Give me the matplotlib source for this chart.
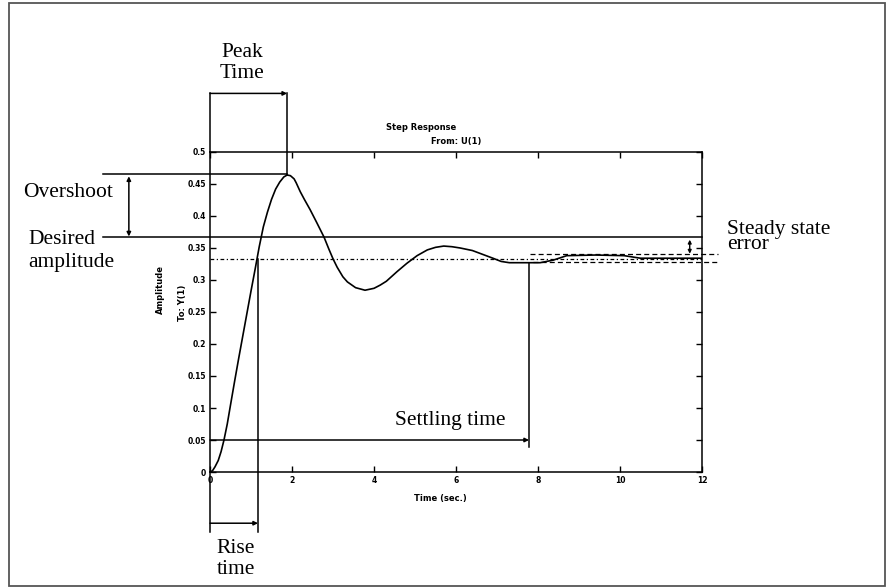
import matplotlib
matplotlib.use("Agg")
import matplotlib.pyplot as plt
from matplotlib.patches import Rectangle

# Step response samples (time in seconds, amplitude)
time_s = [0.0, 0.06, 0.12, 0.2, 0.27, 0.34, 0.42, 0.5, 0.6, 0.7, 0.8, 0.9, 1.0,
          1.1, 1.2, 1.3, 1.4, 1.5, 1.6, 1.7, 1.8, 1.88, 1.96, 2.05, 2.1, 2.2,
          2.3, 2.44, 2.6, 2.78, 2.9, 3.0, 3.1, 3.24, 3.35, 3.55, 3.78, 4.0, 4.15,
          4.3, 4.56, 4.8, 5.05, 5.3, 5.5, 5.7, 5.9, 6.1, 6.4, 6.65, 6.9, 7.1,
          7.3, 8.05, 8.37, 8.7, 9.4, 10.1, 10.5, 11.2, 12.0]
amplitude = [0.0, 0.002, 0.008, 0.018, 0.032, 0.05, 0.075, 0.105, 0.142, 0.178, 0.213, 0.248, 0.283,
             0.317, 0.352, 0.383, 0.406, 0.426, 0.442, 0.453, 0.461, 0.464, 0.463, 0.458, 0.452, 0.438,
             0.426, 0.41, 0.39, 0.367, 0.348, 0.333, 0.320, 0.305, 0.297, 0.288, 0.284, 0.287, 0.292,
             0.298, 0.313, 0.326, 0.338, 0.347, 0.351, 0.353, 0.352, 0.350, 0.346, 0.340, 0.334, 0.329,
             0.327, 0.327, 0.331, 0.338, 0.339, 0.338, 0.334, 0.334, 0.334]

x_ticks = [0, 2, 4, 6, 8, 10, 12]
y_ticks = [0, 0.05, 0.1, 0.15, 0.2, 0.25, 0.3, 0.35, 0.4, 0.45, 0.5]
y_tick_labels = ["0", "0.05", "0.1", "0.15", "0.2", "0.25", "0.3", "0.35", "0.4", "0.45", "0.5"]

# Characteristic values marked on the response
peak_time = 1.88
peak_value = 0.464
rise_time = 1.17
settling_time = 7.78
final_value = 0.333
desired_value = 0.367
band_upper = 0.341
band_lower = 0.328

fig = plt.figure(figsize=(8.9, 5.87), dpi=100)
fig.patch.set_facecolor("white")
fig.patches.append(Rectangle((0.0101, 0.0017), 0.984, 0.993, transform=fig.transFigure,
                             fill=False, edgecolor="#555555", linewidth=1.3))

ax = fig.add_axes([0.2360, 0.1959, 0.5528, 0.5452])
ax.plot(time_s, amplitude, color="black", linewidth=1.2)
ax.set_xlim(0, 12)
ax.set_ylim(0, 0.5)
ax.set_xticks(x_ticks)
ax.set_xticklabels([str(v) for v in x_ticks])
ax.set_yticks(y_ticks)
ax.set_yticklabels(y_tick_labels)
ax.tick_params(direction="in", length=4, width=1, top=True, right=True,
               labelsize=5.5, pad=3)
for lab in ax.get_xticklabels() + ax.get_yticklabels():
    lab.set_fontweight("bold")
for sp in ax.spines.values():
    sp.set_linewidth(1.1)

tick_font = dict(fontsize=6, fontweight="bold", family="DejaVu Sans")
ax.text(5.15, 0.5375, "Step Response", ha="center", va="center", **tick_font)
ax.text(6.0, 0.516, "From: U(1)", ha="center", va="center", **tick_font)
ax.text(5.63, -0.041, "Time (sec.)", ha="center", va="center", **tick_font)
ax.text(-1.2, 0.285, "Amplitude", ha="center", va="center", rotation=90, **tick_font)
ax.text(-0.66, 0.264, "To: Y(1)", ha="center", va="center", rotation=90, **tick_font)

lk = dict(color="black", linewidth=1.1, clip_on=False)

# final value (dash-dot) and desired amplitude
ax.plot([0, 12], [final_value, final_value], color="black", linewidth=0.9,
        linestyle=(0, (3, 2, 1, 2)))
ax.plot([-2.61, 12], [desired_value, desired_value], **lk)

# overshoot
ax.plot([-2.61, peak_time], [peak_value + 0.002, peak_value + 0.002], **lk)
ax.annotate("", xy=(-1.98, peak_value - 0.002), xytext=(-1.98, desired_value + 0.001),
            xycoords="data", annotation_clip=False,
            arrowprops=dict(arrowstyle="<|-|>", mutation_scale=6, lw=1.1,
                            color="black", shrinkA=0, shrinkB=0))

# peak time
ax.plot([0, 0], [0.5, 0.592], **lk)
ax.plot([peak_time, peak_time], [peak_value, 0.592], **lk)
ax.annotate("", xy=(peak_time, 0.5915), xytext=(0, 0.5915), annotation_clip=False,
            arrowprops=dict(arrowstyle="-|>", mutation_scale=6, lw=1.1,
                            color="black", shrinkA=0, shrinkB=0))

# rise time
ax.plot([0, 0], [0, -0.094], **lk)
ax.plot([rise_time, rise_time], [final_value, -0.094], **lk)
ax.annotate("", xy=(rise_time, -0.080), xytext=(0, -0.080), annotation_clip=False,
            arrowprops=dict(arrowstyle="-|>", mutation_scale=6, lw=1.1,
                            color="black", shrinkA=0, shrinkB=0))

# settling time
ax.plot([settling_time, settling_time], [0.327, 0.039], **lk)
ax.annotate("", xy=(settling_time, 0.05), xytext=(0, 0.05), annotation_clip=False,
            arrowprops=dict(arrowstyle="-|>", mutation_scale=6, lw=1.1,
                            color="black", shrinkA=0, shrinkB=0))

# steady-state band and error
ax.plot([7.8, 12.4], [band_upper, band_upper], color="black", linewidth=0.9,
        linestyle=(0, (4, 2.5)), clip_on=False)
ax.plot([7.87, 12.4], [band_lower, band_lower], color="black", linewidth=0.9,
        linestyle=(0, (4, 2.5)), clip_on=False)
ax.annotate("", xy=(11.7, band_upper), xytext=(11.7, desired_value - 0.004),
            annotation_clip=False,
            arrowprops=dict(arrowstyle="<|-|>", mutation_scale=5, lw=1.0,
                            color="black", shrinkA=0, shrinkB=0))

serif = dict(family="Liberation Serif", fontsize=15.5, color="black")
ax.text(0.78, 0.656, "Peak", ha="center", va="center", **serif)
ax.text(0.78, 0.622, "Time", ha="center", va="center", **serif)
ax.text(-4.56, 0.436, "Overshoot", ha="left", va="center", **serif)
ax.text(-4.44, 0.364, "Desired", ha="left", va="center", **serif)
ax.text(-4.44, 0.327, "amplitude", ha="left", va="center", **serif)
ax.text(0.63, -0.119, "Rise", ha="center", va="center", **serif)
ax.text(0.63, -0.153, "time", ha="center", va="center", **serif)
ax.text(5.85, 0.080, "Settling time", ha="center", va="center", **serif)
ax.text(12.6, 0.394, "Steady state\nerror", ha="left", va="top",
        linespacing=0.75, **serif)

fig.savefig("out.png", dpi=100, facecolor="white")
